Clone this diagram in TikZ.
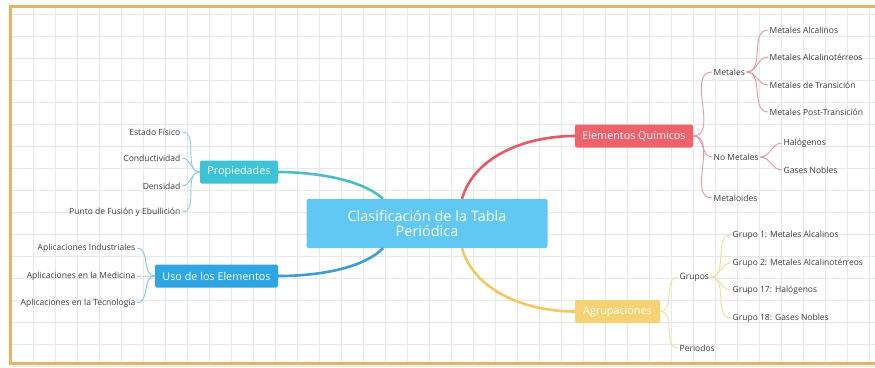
\documentclass[tikz,border=0pt]{standalone}
\usepackage{fontspec}
\setmainfont{Open Sans}
\definecolor{borderc}{HTML}{E8B366}
\definecolor{gridc}{HTML}{E8E8E8}
\definecolor{ccentral}{HTML}{60C8F2}
\definecolor{cprop}{HTML}{3EC2D6}
\definecolor{cuso}{HTML}{2EA6E4}
\definecolor{celem}{HTML}{F0616C}
\definecolor{cagr}{HTML}{F7D272}
\definecolor{lprop}{HTML}{4BBCCB}
\definecolor{luso}{HTML}{3A9FD6}
\definecolor{lelem}{HTML}{E65A68}
\definecolor{lagr}{HTML}{F3C860}
\definecolor{sprop}{HTML}{86D3DE}
\definecolor{suso}{HTML}{86C4E8}
\definecolor{selem}{HTML}{E9979E}
\definecolor{sagr}{HTML}{F4DC9C}
\definecolor{leafgray}{HTML}{3C3C3C}
\begin{document}
\begin{tikzpicture}[x=1pt,y=-1pt,
  leaf/.style={font=\fontsize{8.5}{10}\selectfont, text=leafgray, inner sep=1.5pt},
  topic/.style={rounded corners=2pt, text=white, font=\fontsize{10.8}{12}\selectfont, minimum height=23pt, inner sep=0pt},
  centralbox/.style={rounded corners=2pt, fill=ccentral, text=white, font=\fontsize{14.5}{17}\selectfont, minimum width=241pt, minimum height=49pt, align=center, inner sep=0pt},
  mainline/.style={line width=2.6pt},
  subline/.style={line width=0.9pt},
]
\useasboundingbox (0,0) rectangle (875,367);
\fill[white] (0,0) rectangle (875,367);
% grid
\foreach \i in {0,...,39} \draw[gridc, line width=0.6pt] (11+22*\i,6) -- (11+22*\i,363);
\foreach \j in {0,...,16} \draw[gridc, line width=0.6pt] (10,14+22*\j) -- (875,14+22*\j);
% border
\draw[borderc, line width=3pt] (10,6) rectangle (890,363);

% nodes
\node[centralbox] (c) at (427,223.5) {Clasificación de la Tabla\\[-2pt]Periódica};
\node[topic, fill=cprop, minimum width=78pt] (prop) at (239,172) {Propiedades};
\node[topic, fill=cuso, minimum width=123pt] (uso) at (216.5,276) {Uso de los Elementos};
\node[topic, fill=celem, minimum width=118pt] (elem) at (634,136) {Elementos Químicos};
\node[topic, fill=cagr, minimum width=85pt] (agr) at (617.5,311.5) {Agrupaciones};

% main connectors
\draw[mainline, lelem] ([xshift=35pt]c.north) .. controls +(12,-42) and +(-50,0) .. (elem.west);
\draw[mainline, lagr] ([xshift=35pt]c.south) .. controls +(12,42) and +(-50,0) .. (agr.west);
\draw[mainline, lprop] ([xshift=-44pt]c.north) .. controls +(-23,-21) and +(31,0) .. (prop.east);
\draw[mainline, luso] ([xshift=-44pt]c.south) .. controls +(-23,23) and +(31,0) .. (uso.east);

% Propiedades leaves
\node[leaf, anchor=east] (p1) at (182,132) {Estado Físico};
\node[leaf, anchor=east] (p2) at (182,158) {Conductividad};
\node[leaf, anchor=east] (p3) at (182,186) {Densidad};
\node[leaf, anchor=east] (p4) at (182,212) {Punto de Fusión y Ebullición};
\foreach \n in {p1,p2,p3,p4} \draw[subline, sprop] (prop.west) to[out=180,in=0] (\n.east);

% Uso leaves
\node[leaf, anchor=east] (u1) at (137,248) {Aplicaciones Industriales};
\node[leaf, anchor=east] (u2) at (137,276) {Aplicaciones en la Medicina};
\node[leaf, anchor=east] (u3) at (137,303) {Aplicaciones en la Tecnología};
\foreach \n in {u1,u2,u3} \draw[subline, suso] (uso.west) to[out=180,in=0] (\n.east);

% Elementos
\node[leaf, anchor=west] (met) at (712,72) {Metales};
\node[leaf, anchor=west] (nomet) at (712,157) {No Metales};
\node[leaf, anchor=west] (metal) at (712,198) {Metaloides};
\foreach \n in {met,nomet,metal} \draw[subline, selem] (elem.east) to[out=0,in=180] (\n.west);
\node[leaf, anchor=west] (m1) at (768,30) {Metales Alcalinos};
\node[leaf, anchor=west] (m2) at (768,57) {Metales Alcalinotérreos};
\node[leaf, anchor=west] (m3) at (768,85) {Metales de Transición};
\node[leaf, anchor=west] (m4) at (768,112) {Metales Post-Transición};
\foreach \n in {m1,m2,m3,m4} \draw[subline, selem] (met.east) to[out=0,in=180] (\n.west);
\node[leaf, anchor=west] (n1) at (782,143) {Halógenos};
\node[leaf, anchor=west] (n2) at (782,170) {Gases Nobles};
\foreach \n in {n1,n2} \draw[subline, selem] (nomet.east) to[out=0,in=180] (\n.west);

% Agrupaciones
\node[leaf, anchor=west] (gr) at (678,277) {Grupos};
\node[leaf, anchor=west] (per) at (678,348) {Periodos};
\foreach \n in {gr,per} \draw[subline, sagr] (agr.east) to[out=0,in=180] (\n.west);
\node[leaf, anchor=west] (g1) at (731,235) {Grupo 1: Metales Alcalinos};
\node[leaf, anchor=west] (g2) at (731,263) {Grupo 2: Metales Alcalinotérreos};
\node[leaf, anchor=west] (g3) at (731,290) {Grupo 17: Halógenos};
\node[leaf, anchor=west] (g4) at (731,318) {Grupo 18: Gases Nobles};
\foreach \n in {g1,g2,g3,g4} \draw[subline, sagr] (gr.east) to[out=0,in=180] (\n.west);
\end{tikzpicture}
\end{document}
